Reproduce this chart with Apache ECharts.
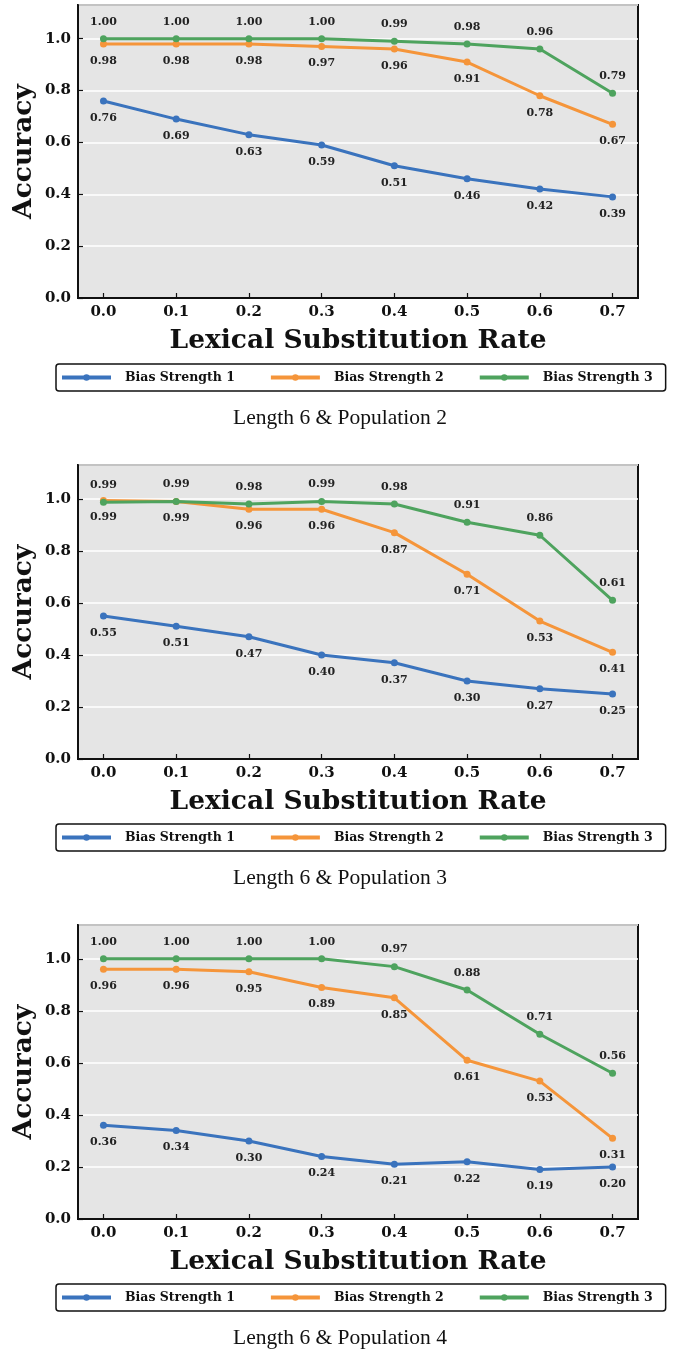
<!DOCTYPE html>
<html>
<head>
<meta charset="utf-8">
<script src="https://cdn.jsdelivr.net/npm/echarts@6/dist/echarts.min.js"></script>
<style>
html,body{margin:0;padding:0;background:#fff;}
#c{width:678px;height:1351px;}
</style>
</head>
<body>
<div id="c"></div>
<script>
const rates = [0.0, 0.1, 0.2, 0.3, 0.4, 0.5, 0.6, 0.7];
const xTickLabels = ['0.0','0.1','0.2','0.3','0.4','0.5','0.6','0.7'];
const yTicks = [0, 0.2, 0.4, 0.6, 0.8, 1.0];
const seriesNames = ['Bias Strength 1', 'Bias Strength 2', 'Bias Strength 3'];
const captions = ['Length 6 & Population 2', 'Length 6 & Population 3', 'Length 6 & Population 4'];

// Panel 1: Length 6 & Population 2
const p2_bias1 = [0.76, 0.69, 0.63, 0.59, 0.51, 0.46, 0.42, 0.39];
const p2_bias2 = [0.98, 0.98, 0.98, 0.97, 0.96, 0.91, 0.78, 0.67];
const p2_bias3 = [1.00, 1.00, 1.00, 1.00, 0.99, 0.98, 0.96, 0.79];
// Panel 2: Length 6 & Population 3
const p3_bias1 = [0.55, 0.51, 0.47, 0.40, 0.37, 0.30, 0.27, 0.25];
const p3_bias2 = [0.994, 0.99, 0.96, 0.96, 0.87, 0.71, 0.53, 0.41];
const p3_bias3 = [0.987, 0.99, 0.98, 0.99, 0.98, 0.91, 0.86, 0.61];
// Panel 3: Length 6 & Population 4
const p4_bias1 = [0.36, 0.34, 0.30, 0.24, 0.21, 0.22, 0.19, 0.20];
const p4_bias2 = [0.96, 0.96, 0.95, 0.89, 0.85, 0.61, 0.53, 0.31];
const p4_bias3 = [1.00, 1.00, 1.00, 1.00, 0.97, 0.88, 0.71, 0.56];

const panels = [
  [p2_bias1, p2_bias2, p2_bias3],
  [p3_bias1, p3_bias2, p3_bias3],
  [p4_bias1, p4_bias2, p4_bias3]
];

const colors = ['#3a73bd', '#f5953a', '#4ea35e'];
const labelPos = ['bottom', 'bottom', 'top'];
const boldSerif = 'DejaVu Serif';
const panelTops = [5, 465, 925];
const plotH = 293;

const grids = [], xAxes = [], yAxes = [], series = [], legends = [], graphics = [];
panelTops.forEach((top, pi) => {
  grids.push({
    left: 78, right: 40, top: top, height: plotH + (pi > 0 ? 1 : 0),
    show: true, backgroundColor: '#e5e5e5', borderColor: '#111', borderWidth: 2,
    containLabel: false, outerBoundsMode: 'none'
  });
  xAxes.push({
    type: 'value', gridIndex: pi, min: -0.035, max: 0.735,
    name: 'Lexical Substitution Rate', nameLocation: 'middle', nameGap: 30,
    nameTextStyle: { fontFamily: boldSerif, fontWeight: 'bold', fontSize: 26.5, color: '#111' },
    axisLine: { show: true, onZero: false, lineStyle: { color: '#111', width: 2 } },
    axisTick: { show: true, inside: true, length: 5, customValues: rates, lineStyle: { color: '#111', width: 1.2 } },
    axisLabel: { customValues: rates, formatter: v => xTickLabels[rates.indexOf(Math.round(v * 10) / 10)] || v.toFixed(1),
      fontFamily: boldSerif, fontWeight: 'bold', fontSize: 15, color: '#111', margin: 7 },
    splitLine: { show: false }
  });
  yAxes.push({
    type: 'value', gridIndex: pi, min: 0, max: 1.13, interval: 0.2,
    name: 'Accuracy', nameLocation: 'middle', nameGap: 40, nameMoveOverlap: false,
    nameTextStyle: { fontFamily: boldSerif, fontWeight: 'bold', fontSize: 26.5, color: '#111' },
    axisLine: { show: true, onZero: false, lineStyle: { color: '#111', width: 2 } },
    axisTick: { show: true, inside: true, length: 5, lineStyle: { color: '#111', width: 1.2 } },
    axisLabel: { showMaxLabel: false, formatter: v => yTicks.some(t => Math.abs(t - v) < 1e-9) ? v.toFixed(1) : '',
      fontFamily: boldSerif, fontWeight: 'bold', fontSize: 15, color: '#111', margin: 7 },
    splitLine: { show: true, lineStyle: { color: '#ffffff', width: 1.5 } }
  });
  panels[pi].forEach((vals, si) => {
    series.push({
      name: seriesNames[si], type: 'line', xAxisIndex: pi, yAxisIndex: pi,
      data: rates.map((r, i) => [r, vals[i]]),
      symbol: 'circle', symbolSize: 7, z: 2 + si,
      lineStyle: { color: colors[si], width: 3 },
      itemStyle: { color: colors[si] },
      label: { show: true, position: labelPos[si], distance: 8,
        formatter: p => p.value[1].toFixed(2),
        fontFamily: boldSerif, fontWeight: 'bold', fontSize: 11, color: '#222' },
      emphasis: { disabled: true }, animation: false
    });
  });
  legends.push({
    data: seriesNames, top: top + 359, left: 56,
    orient: 'horizontal', itemWidth: 49, itemHeight: 8, itemGap: 34,
    padding: [7, 13, 7, 4], borderColor: '#111', borderWidth: 1.5, borderRadius: 3,
    backgroundColor: '#fff',
    lineStyle: { width: 4 },
    textStyle: { fontFamily: boldSerif, fontWeight: 'bold', fontSize: 12.5, color: '#111', padding: [0, 0, 0, 9] },
    selectedMode: false
  });
  graphics.push({
    type: 'text', x: 340, y: top + 413,
    style: { text: captions[pi], fontFamily: 'Liberation Serif', fontSize: 21.5, fill: '#111',
      align: 'center', verticalAlign: 'middle' }
  });
});

const chart = echarts.init(document.getElementById('c'), null, { renderer: 'canvas' });
chart.setOption({
  animation: false,
  grid: grids, xAxis: xAxes, yAxis: yAxes, series: series,
  legend: legends, graphic: graphics
});
</script>
</body>
</html>
